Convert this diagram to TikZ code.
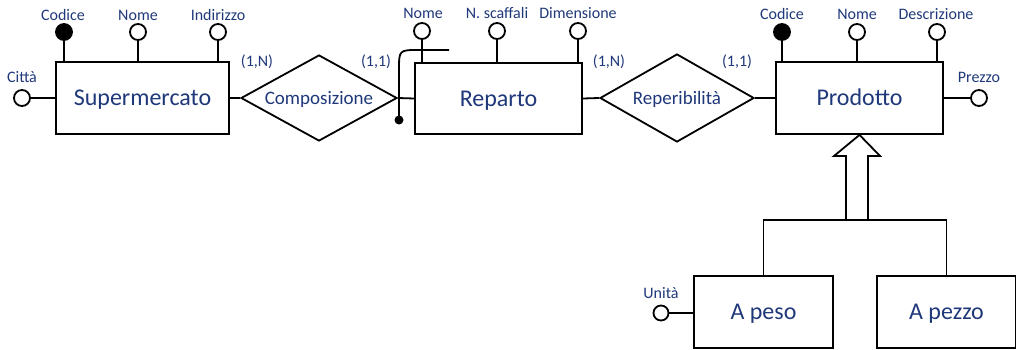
\documentclass[tikz,border=0pt]{standalone}
\usepackage{fontspec}
\setmainfont{Carlito}
\usetikzlibrary{shapes.geometric}
\definecolor{txt}{RGB}{31,56,122}
\begin{document}
\begin{tikzpicture}[x=1pt,y=-1pt,line width=1.8pt,
  entity/.style={draw,fill=white,inner sep=0pt,text=txt,font=\fontsize{24}{24}\selectfont,text height=15.5pt,text depth=0pt},
  rel/.style={draw,fill=white,diamond,inner sep=0pt,text=txt,font=\fontsize{19}{19}\selectfont,text height=12.2pt,text depth=0pt},
  attr/.style={draw,circle,fill=white,minimum size=16pt,inner sep=0pt},
  keyattr/.style={attr,fill=black},
  lbl/.style={text=txt,font=\fontsize{16}{16}\selectfont,inner sep=0pt,anchor=base}]
\useasboundingbox (0,0) rectangle (1016,350);

% entities
\node[entity,minimum width=173pt,minimum height=72pt] (sup) at (142.5,98) {Supermercato};
\node[entity,minimum width=167pt,minimum height=71pt] (rep) at (498.5,98.5) {Reparto};
\node[entity,minimum width=167pt,minimum height=72pt] (prod) at (859.5,98) {Prodotto};
\node[entity,minimum width=139pt,minimum height=72pt] (apeso) at (763.5,312) {A peso};
\node[entity,minimum width=139pt,minimum height=72pt] (apezzo) at (946.5,312) {A pezzo};

% relationships
\node[rel,minimum width=156pt,minimum height=86pt,aspect=1.8] (comp) at (319,98) {Composizione};
\node[rel,minimum width=154pt,minimum height=88pt,aspect=1.75] (reper) at (677,98) {Reperibilità};

\draw (sup.east) -- (comp.west);
\draw (comp.east) -- (rep.west);
\draw (rep.east) -- (reper.west);
\draw (reper.east) -- (prod.west);

% cardinalities
\node[lbl] (c1) at (257,67) {(1,N)};
\node[lbl] (c2) at (376,67) {(1,1)};
\node[lbl] (c3) at (609,67) {(1,N)};
\node[lbl] (c4) at (737,67) {(1,1)};

% Supermercato attributes
\node[keyattr] (sa1) at (64,32) {};
\node[attr] (sa2) at (138,32) {};
\node[attr] (sa3) at (218,32) {};
\node[attr] (sa4) at (22,98) {};
\draw (sa1.south) -- (sa1.south |- sup.north);
\draw (sa2.south) -- (sa2.south |- sup.north);
\draw (sa3.south) -- (sa3.south |- sup.north);
\draw (sa4.east) -- (sa4.east -| sup.west);
\node[lbl] (sl1) at (63,21) {Codice};
\node[lbl] (sl2) at (138,21) {Nome};
\node[lbl] (sl3) at (218,21) {Indirizzo};
\node[lbl] (sl4) at (22,83) {Città};

% Reparto attributes
\node[attr] (ra1) at (422,31) {};
\node[attr] (ra2) at (497,31) {};
\node[attr] (ra3) at (578,31) {};
\draw (ra1.south) -- (ra1.south |- rep.north);
\draw (ra2.south) -- (ra2.south |- rep.north);
\draw (ra3.south) -- (ra3.south |- rep.north);
\node[lbl] (rl1) at (423,19) {Nome};
\node[lbl] (rl2) at (497,19) {N. scaffali};
\node[lbl] (rl3) at (578,19) {Dimensione};

% external identifier of Reparto
\coordinate (idb) at (399,120);
\coordinate (idm) at (399,70);
\coordinate (idc) at (419,50);
\coordinate (ide) at (449,50);
\fill (idb) circle (4.5pt);
\draw (idb) -- (idm) .. controls (399,50) .. (idc) -- (ide);

% Prodotto attributes
\node[keyattr] (pa1) at (782,32) {};
\node[attr] (pa2) at (857,32) {};
\node[attr] (pa3) at (937,32) {};
\node[attr] (pa4) at (979,98) {};
\draw (pa1.south) -- (pa1.south |- prod.north);
\draw (pa2.south) -- (pa2.south |- prod.north);
\draw (pa3.south) -- (pa3.south |- prod.north);
\draw (pa4.west) -- (pa4.west -| prod.east);
\node[lbl] (pl1) at (782,20) {Codice};
\node[lbl] (pl2) at (857,20) {Nome};
\node[lbl] (pl3) at (936,20) {Descrizione};
\node[lbl] (pl4) at (979,83) {Prezzo};

% A peso attribute
\node[attr,minimum size=15pt] (aa1) at (661,313) {};
\draw (aa1.east) -- (aa1.east -| apeso.west);
\node[lbl] (al1) at (661,298) {Unità};

% generalization
\coordinate (gen) at (857,220);
\draw[fill=white] (prod.south) -- (880,156) -- (868,156) -- (868,220) -- (846,220) -- (846,156) -- (834,156) -- cycle;
\draw (apeso.north) |- (gen) -| (apezzo.north);
\end{tikzpicture}
\end{document}
